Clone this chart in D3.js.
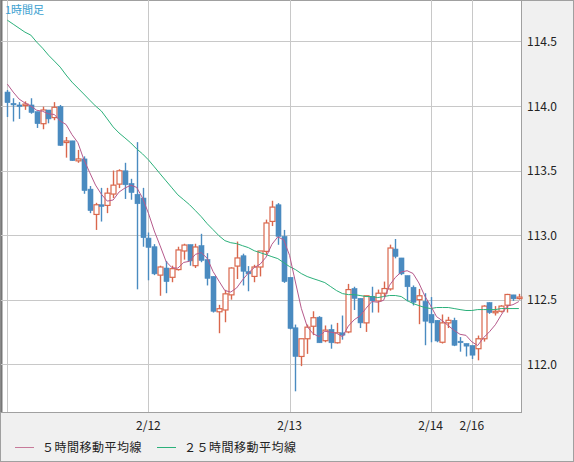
<!DOCTYPE html>
<html>
<head>
<meta charset="utf-8">
<script src="https://cdn.jsdelivr.net/npm/d3@7"></script>
<style>
  body { margin: 0; background: #f0f0f0; }
  svg { display: block; }
</style>
</head>
<body>
<svg id="chart" width="574" height="462"></svg>
<script>
// hourly candles, values
var opens  = [114.108,114.02,114.008,114.005,114.008,113.956,113.863,113.969,113.91,113.995,
              113.717,113.73,113.575,113.59,113.356,113.16,113.235,113.23,113.318,113.395,
              113.498,113.40,113.316,113.287,112.977,112.91,112.69,112.745,112.673,112.733,
              112.877,112.926,112.763,112.918,112.81,112.68,112.406,112.42,112.537,112.76,
              112.84,112.717,112.68,112.753,112.874,113.106,113.235,112.99,112.673,112.282,
              112.06,112.197,112.294,112.364,112.182,112.27,112.166,112.243,112.25,112.586,
              112.51,112.32,112.526,112.49,112.55,112.583,112.892,112.823,112.686,112.596,
              112.50,112.487,112.385,112.34,112.17,112.32,112.34,112.178,112.16,112.145,
              112.12,112.197,112.477,112.40,112.41,112.457,112.537,112.515];
var highs  = [114.124,114.06,114.03,114.036,114.06,113.956,113.995,113.969,114.03,114.008,
              113.76,113.73,113.66,113.61,113.38,113.25,113.366,113.366,113.50,113.51,
              113.56,113.436,113.72,113.366,113.02,112.93,112.763,112.80,112.763,112.91,
              112.933,112.926,112.933,113.01,112.86,112.68,112.46,112.576,112.75,112.95,
              112.856,112.76,112.77,112.877,113.12,113.266,113.248,113.04,112.673,112.307,
              112.197,112.307,112.41,112.372,112.30,112.307,112.32,112.377,112.622,112.60,
              112.51,112.53,112.60,112.578,112.64,112.926,112.97,112.823,112.686,112.61,
              112.583,112.55,112.52,112.34,112.385,112.367,112.36,112.21,112.16,112.145,
              112.222,112.457,112.48,112.45,112.457,112.545,112.537,112.545];
var lows   = [113.915,113.88,113.90,113.97,113.94,113.83,113.82,113.866,113.89,113.69,
              113.60,113.575,113.56,113.32,113.17,113.04,113.105,113.17,113.287,113.364,
              113.28,113.274,112.58,112.91,112.65,112.69,112.53,112.55,112.635,112.725,
              112.81,112.763,112.745,112.79,112.61,112.40,112.24,112.325,112.50,112.66,
              112.61,112.565,112.635,112.68,112.85,113.07,112.925,112.63,112.27,111.79,
              111.985,112.08,112.225,112.166,112.17,112.12,112.16,112.19,112.24,112.42,
              112.28,112.25,112.40,112.40,112.52,112.57,112.82,112.69,112.487,112.455,
              112.31,112.147,112.17,112.17,112.16,112.28,112.14,112.097,112.06,112.04,
              112.03,112.175,112.39,112.377,112.40,112.40,112.49,112.50];
var closes = [114.026,114.01,113.998,114.015,113.95,113.863,113.969,113.90,113.99,113.695,
              113.729,113.577,113.59,113.345,113.19,113.235,113.222,113.325,113.387,113.498,
              113.39,113.33,113.243,112.98,112.905,112.70,112.753,112.64,112.74,112.885,
              112.923,112.80,112.908,112.804,112.665,112.41,112.43,112.545,112.745,112.823,
              112.72,112.70,112.753,112.877,113.094,113.217,112.99,112.64,112.277,112.06,
              112.197,112.287,112.36,112.166,112.264,112.166,112.243,112.225,112.578,112.51,
              112.32,112.53,112.49,112.55,112.586,112.90,112.835,112.70,112.60,112.48,
              112.53,112.333,112.32,112.18,112.32,112.34,112.147,112.17,112.14,112.07,
              112.197,112.45,112.40,112.41,112.45,112.54,112.506,112.52];
// first four 5-hour averages need candles left of the chart
var ma5Head = [114.17,114.108,114.054,114.023];
var ma25 = [114.665,114.634,114.603,114.572,114.549,114.495,114.448,114.394,114.348,114.301,
            114.240,114.185,114.139,114.093,114.046,114.000,113.961,113.900,113.838,113.791,
            113.753,113.714,113.668,113.629,113.583,113.529,113.474,113.420,113.366,113.312,
            113.274,113.235,113.189,113.142,113.088,113.042,112.995,112.957,112.941,112.934,
            112.918,112.903,112.879,112.864,112.849,112.833,112.818,112.787,112.756,112.733,
            112.702,112.679,112.663,112.648,112.632,112.601,112.570,112.547,112.539,112.539,
            112.532,112.524,112.524,112.516,112.524,112.532,112.532,112.524,112.493,112.470,
            112.454,112.439,112.431,112.439,112.439,112.439,112.431,112.423,112.416,112.416,
            112.423,112.423,112.423,112.423,112.431,112.431,112.431,112.431];
var yTicks = [114.5, 114.0, 113.5, 113.0, 112.5, 112.0];
var dateIdx = [24, 48, 72, 79];
var dateLabels = ['2/12', '2/13', '2/14', '2/16'];

var n = closes.length;
var ma5 = closes.map(function (c, i) {
	if (i < 4) return ma5Head[i];
	return d3.mean(closes.slice(i - 4, i + 1));
});

var plot = { left: 1, top: 0, right: 521, bottom: 412 };
var svg = d3.select('#chart');
var font = '"Noto Sans CJK JP", "DejaVu Sans", sans-serif';

var x = d3.scaleLinear().domain([0, n - 1]).range([7.3, 7.3 + 5.88 * (n - 1)]);
var y = d3.scaleLinear().domain([112.0, 114.0]).range([364.2, 106]);

svg.append('rect').attr('x', 0.5).attr('y', 0.5).attr('width', 573).attr('height', 461)
	.attr('fill', '#f0f0f0').attr('stroke', '#a0a0a0');
svg.append('rect').attr('x', plot.left + 0.5).attr('y', plot.top + 0.5)
	.attr('width', plot.right - plot.left).attr('height', plot.bottom - plot.top)
	.attr('fill', '#fff').attr('stroke', '#a0a0a0');
svg.append('line').attr('x1', 1.5).attr('x2', 1.5).attr('y1', 0).attr('y2', plot.bottom)
	.attr('stroke', '#777').attr('stroke-width', 2);

// grid
svg.append('g').selectAll('line').data(yTicks).enter().append('line')
	.attr('x1', plot.left).attr('x2', plot.right)
	.attr('y1', function (d) { return Math.round(y(d)) + 0.5; })
	.attr('y2', function (d) { return Math.round(y(d)) + 0.5; })
	.attr('stroke', '#c8c8c8');
svg.append('g').selectAll('line').data([0].concat(dateIdx)).enter().append('line')
	.attr('x1', function (d) { return Math.round(x(d)) + 0.5; })
	.attr('x2', function (d) { return Math.round(x(d)) + 0.5; })
	.attr('y1', plot.top).attr('y2', plot.bottom)
	.attr('stroke', '#c8c8c8');

// axis labels
svg.append('g').selectAll('text').data(yTicks).enter().append('text')
	.attr('x', 527).attr('y', function (d) { return y(d) + 4.5; })
	.attr('font-family', font).attr('font-size', 12).attr('fill', '#222')
	.text(function (d) { return d.toFixed(1); });
svg.append('g').selectAll('text').data(dateIdx).enter().append('text')
	.attr('x', function (d) { return x(d); }).attr('y', 430)
	.attr('text-anchor', 'middle')
	.attr('font-family', font).attr('font-size', 12).attr('fill', '#222')
	.text(function (d, i) { return dateLabels[i]; });

svg.append('text').attr('x', 5).attr('y', 14)
	.attr('font-family', font).attr('font-size', 11).attr('fill', '#3aa0d0')
	.text('1時間足');

// candles
var blue = '#4a8bc0', red = '#d9674c';
var g = svg.append('g');
d3.range(n).forEach(function (i) {
	var up = closes[i] >= opens[i];
	var col = up ? red : blue;
	var cx = Math.round(x(i)) + 0.5;
	g.append('line').attr('x1', cx).attr('x2', cx)
		.attr('y1', y(highs[i])).attr('y2', y(lows[i]))
		.attr('stroke', col).attr('stroke-width', 1.4);
	var top = y(Math.max(opens[i], closes[i]));
	var h = Math.max(1.5, y(Math.min(opens[i], closes[i])) - top);
	g.append('rect').attr('x', cx - 2.5).attr('y', top).attr('width', 5).attr('height', h)
		.attr('fill', up ? '#fff' : blue).attr('stroke', col).attr('stroke-width', up ? 1.2 : 0.6);
});

// moving averages
var line = d3.line().x(function (d, i) { return x(i); }).y(function (d) { return y(d); });
svg.append('path').datum(ma25).attr('d', line).attr('fill', 'none')
	.attr('stroke', '#2bb07a').attr('stroke-width', 1);
svg.append('path').datum(ma5).attr('d', line).attr('fill', 'none')
	.attr('stroke', '#b65a8c').attr('stroke-width', 1);

// legend
var legend = [['５時間移動平均線', '#c77a99', 15], ['２５時間移動平均線', '#2bb07a', 157]];
legend.forEach(function (l) {
	svg.append('line').attr('x1', l[2]).attr('x2', l[2] + 19).attr('y1', 447.5).attr('y2', 447.5)
		.attr('stroke', l[1]);
	svg.append('text').attr('x', l[2] + 27).attr('y', 452)
		.attr('font-family', font).attr('font-size', 12).attr('fill', '#222')
		.attr('letter-spacing', 0.5)
		.text(l[0]);
});
</script>
</body>
</html>
